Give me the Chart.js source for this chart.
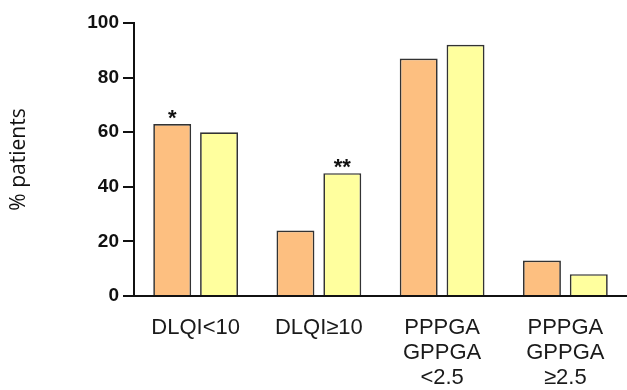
<!DOCTYPE html>
<html>
<head>
<meta charset="utf-8">
<script src="https://cdn.jsdelivr.net/npm/chart.js@4/dist/chart.umd.min.js"></script>
<style>
html,body{margin:0;padding:0;background:#fff;}
#wrap{width:627px;height:390px;position:relative;}
</style>
</head>
<body>
<div id="wrap"><canvas id="c" width="627" height="390"></canvas></div>
<script>
const categories = ['DLQI<10', 'DLQI≥10', ['PPPGA', 'GPPGA', '<2.5'], ['PPPGA', 'GPPGA', '≥2.5']];
const seriesA = [63, 24, 87, 13];
const seriesB = [60, 45, 92, 8];
const marksA = ['*', '', '', ''];
const marksB = ['', '**', '', ''];
const yTicks = [0, 20, 40, 60, 80, 100];
const yTitle = '% patients';

const starPlugin = {
  id: 'stars',
  afterDatasetsDraw(chart) {
    const ctx = chart.ctx;
    ctx.save();
    ctx.fillStyle = '#111';
    ctx.font = 'bold 22px "Liberation Sans", Arial, sans-serif';
    ctx.textAlign = 'center';
    ctx.textBaseline = 'alphabetic';
    [marksA, marksB].forEach((marks, di) => {
      const meta = chart.getDatasetMeta(di);
      marks.forEach((m, i) => {
        if (!m) return;
        const el = meta.data[i];
        ctx.fillText(m, el.x, el.y + 1);
      });
    });
    ctx.restore();
  }
};

new Chart(document.getElementById('c'), {
  type: 'bar',
  data: {
    labels: categories,
    datasets: [
      { data: seriesA, backgroundColor: 'rgb(253,191,128)', borderColor: '#333', borderWidth: 1.7 },
      { data: seriesB, backgroundColor: 'rgb(255,255,158)', borderColor: '#333', borderWidth: 1.7 }
    ]
  },
  options: {
    responsive: false,
    animation: false,
    layout: { padding: { top: 23, right: 0, left: 0, bottom: 0 } },
    plugins: { legend: { display: false }, tooltip: { enabled: false } },
    datasets: { bar: { categoryPercentage: 0.76, barPercentage: 0.81 } },
    scales: {
      x: {
        grid: { display: false, drawTicks: false },
        border: { display: true, color: '#111', width: 2 },
        ticks: {
          color: '#1a1a1a',
          padding: 19,
          maxRotation: 0,
          autoSkip: false,
          font: { family: '"Liberation Sans", Arial, sans-serif', size: 22, lineHeight: 1.15 }
        },
        afterFit(s) { s.height = 94; }
      },
      y: {
        min: 0, max: 100,
        afterBuildTicks(s) { s.ticks = yTicks.map(v => ({ value: v })); },
        grid: { drawOnChartArea: false, drawTicks: true, tickLength: 11, color: '#111', lineWidth: 2 },
        border: { display: true, color: '#111', width: 2 },
        ticks: {
          color: '#111',
          padding: 4,
          font: { family: '"Liberation Sans", Arial, sans-serif', size: 19, weight: 'bold' }
        },
        title: {
          display: true,
          text: yTitle,
          color: '#111',
          padding: { top: 6, bottom: 0 },
          font: { family: '"Open Sans", sans-serif', size: 21 }
        },
        afterFit(s) { s.width = 134; }
      }
    }
  },
  plugins: [starPlugin]
});
</script>
</body>
</html>
